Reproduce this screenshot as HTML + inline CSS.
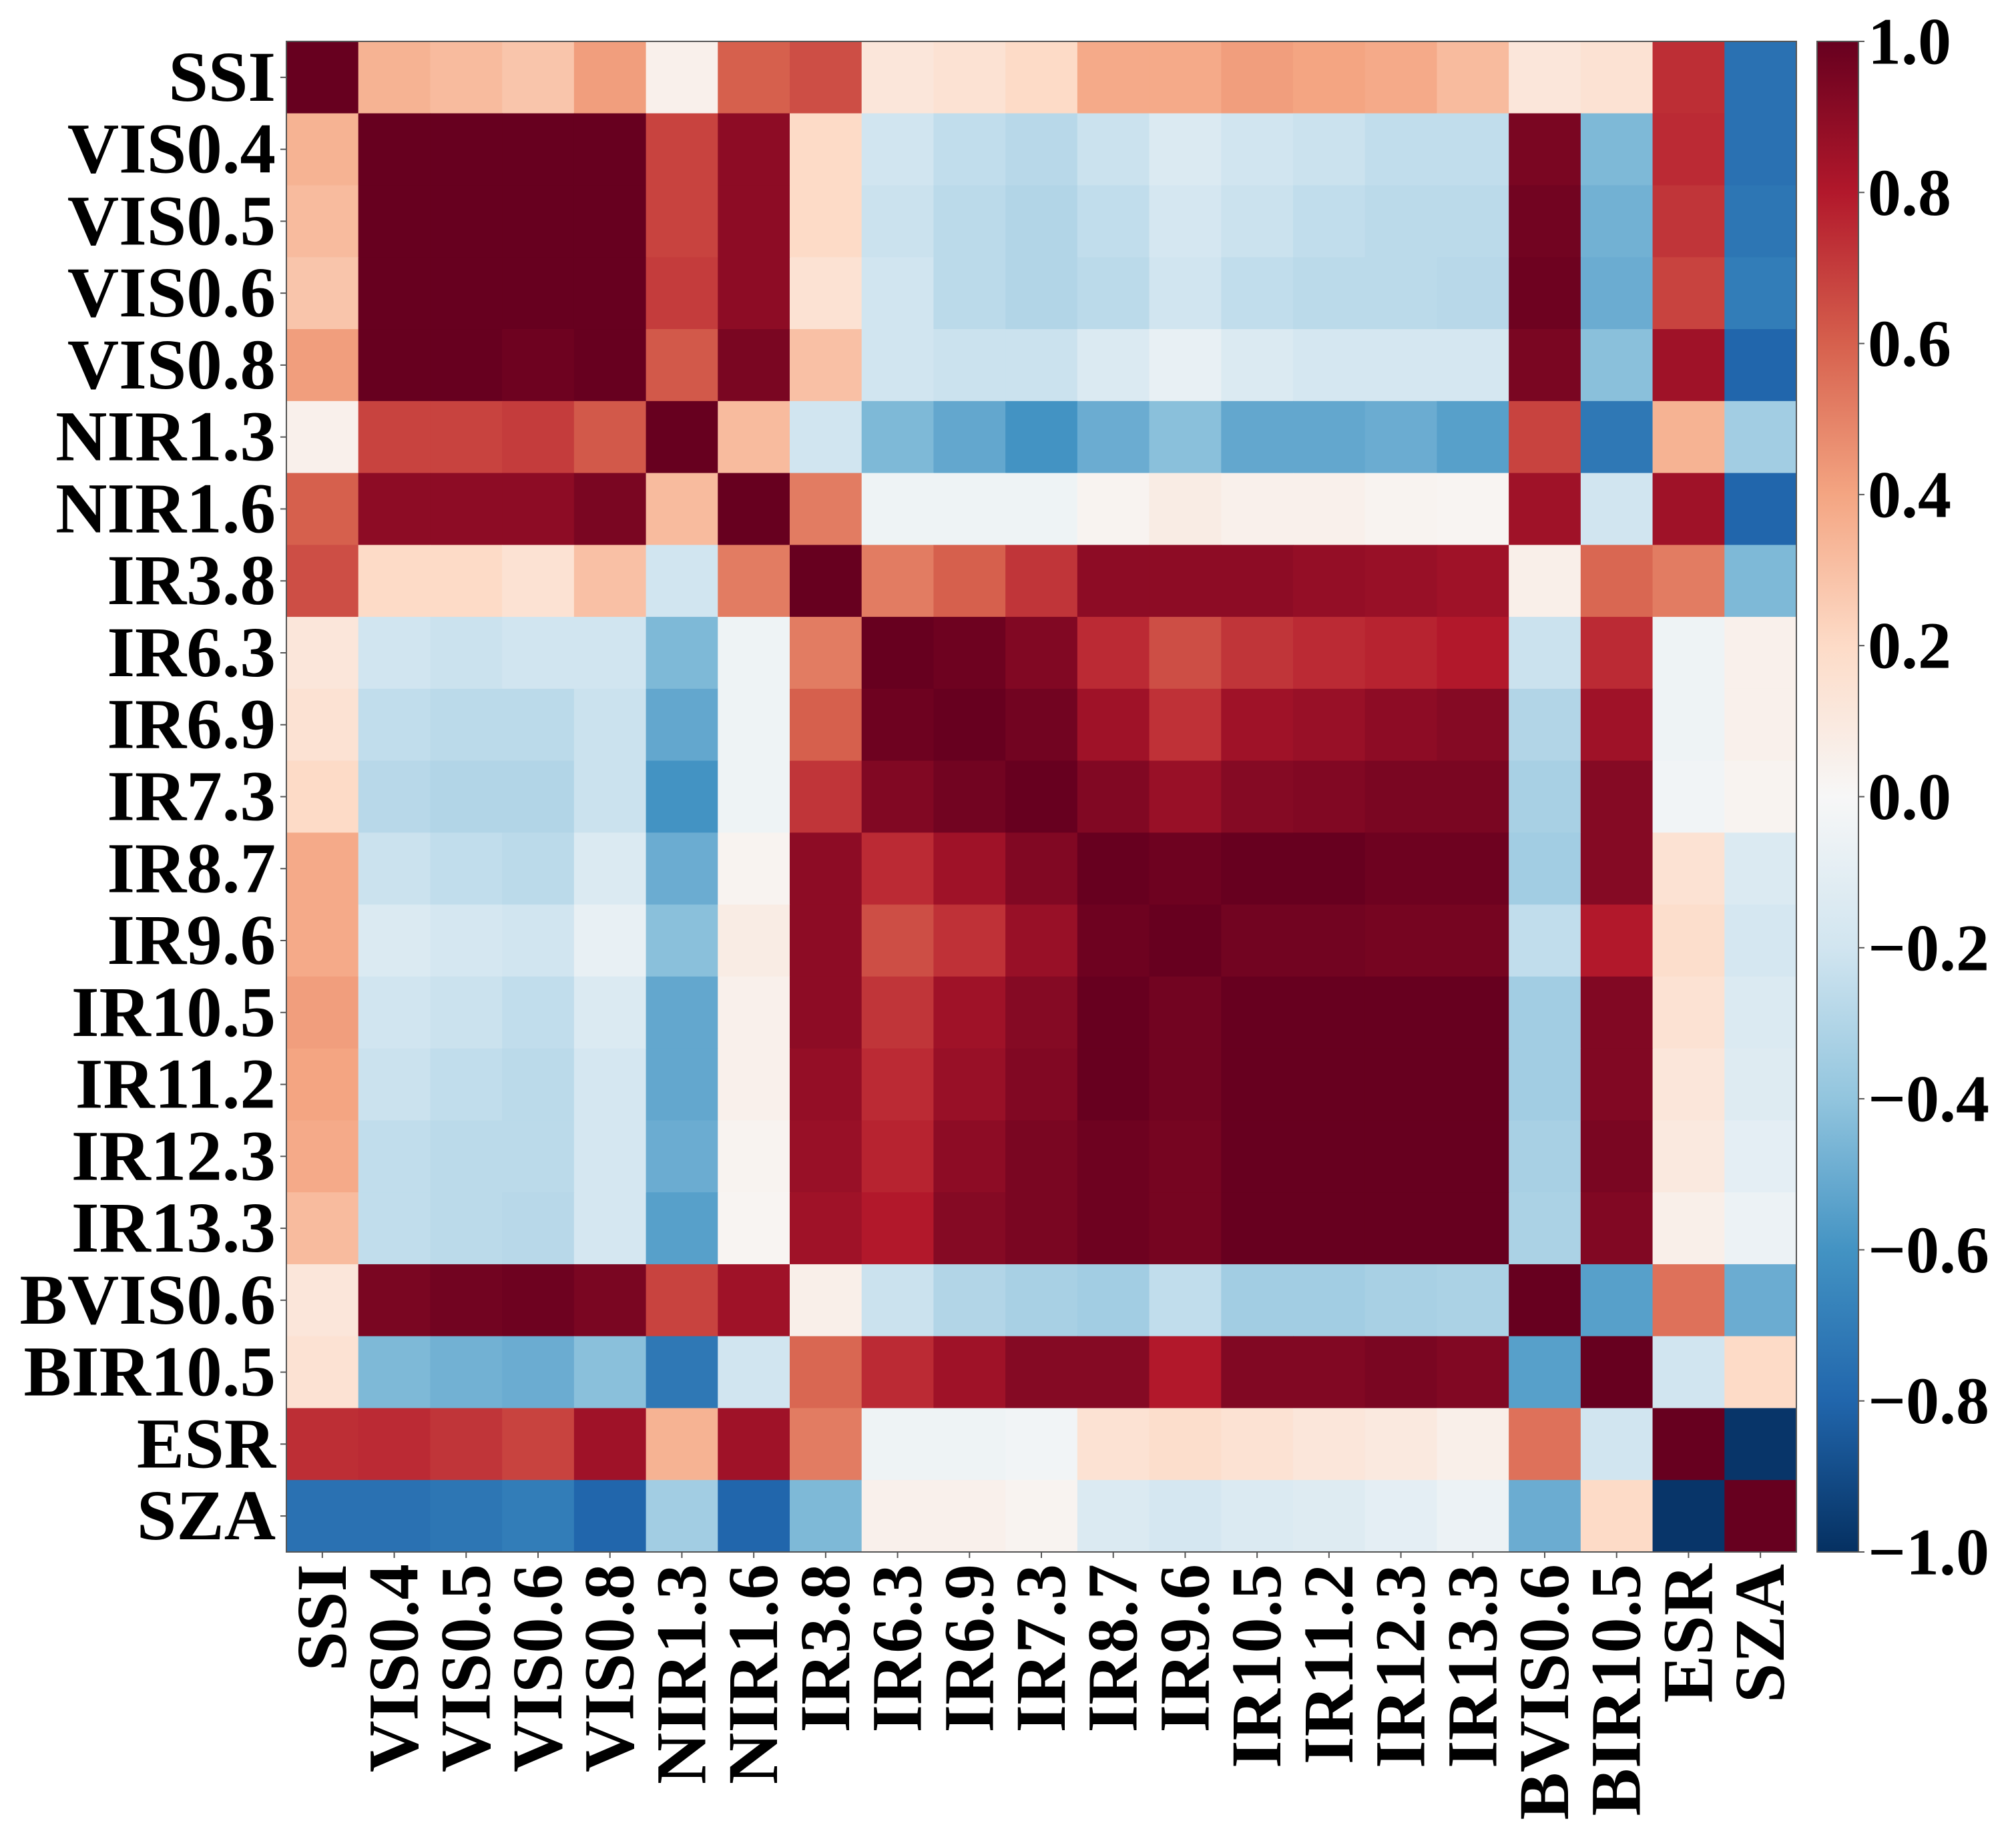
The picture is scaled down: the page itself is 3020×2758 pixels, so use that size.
<!DOCTYPE html>
<html><head><meta charset="utf-8"><style>
html,body{margin:0;padding:0;background:#fff;}
svg{display:block;}
text{font-family:"Liberation Serif",serif;font-weight:bold;fill:#000;}
</style></head><body>
<svg id="chart" width="3020" height="2758" viewBox="0 0 3020 2758" xmlns="http://www.w3.org/2000/svg">
<defs>
<linearGradient id="cbgrad" x1="0" y1="1" x2="0" y2="0">
<stop offset="0" stop-color="#053061"/><stop offset="0.1" stop-color="#2166ac"/><stop offset="0.2" stop-color="#4393c3"/><stop offset="0.3" stop-color="#92c5de"/><stop offset="0.4" stop-color="#d1e5f0"/><stop offset="0.5" stop-color="#f7f7f7"/><stop offset="0.6" stop-color="#fddbc7"/><stop offset="0.7" stop-color="#f4a582"/><stop offset="0.8" stop-color="#d6604d"/><stop offset="0.9" stop-color="#b2182b"/><stop offset="1" stop-color="#67001f"/>
</linearGradient>
</defs>
<g id="cells"></g>
<g id="ylabels"></g>
<g id="xlabels"></g>
<g id="cbar"></g>
</svg>
<script>
const labels = ["SSI","VIS0.4","VIS0.5","VIS0.6","VIS0.8","NIR1.3","NIR1.6","IR3.8","IR6.3","IR6.9","IR7.3","IR8.7","IR9.6","IR10.5","IR11.2","IR12.3","IR13.3","BVIS0.6","BIR10.5","ESR","SZA"];
const rowSSI   = [1,.35,.32,.28,.42,.05,.6,.65,.12,.15,.2,.38,.38,.42,.4,.38,.32,.12,.15,.74,-.75];
const rowVIS04 = [.35,1,1,1,1,.68,.9,.2,-.2,-.25,-.28,-.22,-.15,-.2,-.22,-.25,-.25,.95,-.45,.75,-.75];
const rowVIS05 = [.32,1,1,1,1,.68,.9,.2,-.22,-.27,-.3,-.25,-.18,-.22,-.25,-.27,-.27,.97,-.48,.72,-.73];
const rowVIS06 = [.28,1,1,1,1,.7,.9,.15,-.2,-.27,-.3,-.27,-.2,-.25,-.27,-.27,-.28,.98,-.5,.68,-.7];
const rowVIS08 = [.42,1,1,.98,1,.62,.95,.3,-.2,-.22,-.22,-.15,-.08,-.15,-.18,-.18,-.18,.95,-.42,.85,-.8];
const rowNIR13 = [.05,.68,.68,.7,.62,1,.32,-.2,-.45,-.52,-.6,-.5,-.42,-.52,-.52,-.5,-.55,.68,-.72,.35,-.35];
const rowNIR16 = [.6,.9,.9,.9,.95,.32,1,.52,-.05,-.05,-.05,.03,.08,.05,.05,.03,.02,.85,-.2,.85,-.8];
const rowIR38  = [.65,.2,.2,.15,.3,-.2,.52,1,.52,.6,.72,.9,.9,.9,.88,.87,.85,.06,.58,.52,-.45];
const rowIR63  = [.12,-.2,-.22,-.2,-.2,-.45,-.05,.52,1,.98,.93,.75,.65,.72,.75,.77,.8,-.22,.75,-.05,.05];
const rowIR69  = [.15,-.25,-.27,-.27,-.22,-.52,-.05,.6,.98,1,.97,.85,.73,.85,.87,.9,.92,-.3,.85,-.05,.05];
const rowIR73  = [.2,-.28,-.3,-.3,-.22,-.6,-.05,.72,.93,.97,1,.93,.87,.92,.93,.95,.95,-.33,.92,-.03,.03];
const rowIR87  = [.38,-.22,-.25,-.27,-.15,-.5,.03,.9,.75,.85,.93,1,.98,1,1,.98,.98,-.35,.92,.15,-.15];
const rowIR96  = [.38,-.15,-.18,-.2,-.08,-.42,.08,.9,.65,.73,.87,.98,1,.97,.97,.96,.96,-.25,.8,.18,-.18];
const rowIR105 = [.42,-.2,-.22,-.25,-.15,-.52,.05,.9,.72,.85,.92,1,.97,1,1,1,1,-.35,.93,.15,-.15];
const rowIR112 = [.4,-.22,-.25,-.27,-.18,-.52,.05,.88,.75,.87,.93,1,.97,1,1,1,1,-.35,.93,.12,-.13];
const rowIR123 = [.38,-.25,-.27,-.27,-.18,-.5,.03,.87,.77,.9,.95,.98,.96,1,1,1,1,-.33,.95,.1,-.1];
const rowIR133 = [.32,-.25,-.27,-.28,-.18,-.55,.02,.85,.8,.92,.95,.98,.96,1,1,1,1,-.32,.93,.06,-.06];
const rowBVIS06= [.12,.95,.97,.98,.95,.68,.85,.06,-.22,-.3,-.33,-.35,-.25,-.35,-.35,-.33,-.32,1,-.55,.55,-.5];
const rowBIR105= [.15,-.45,-.48,-.5,-.42,-.72,-.2,.58,.75,.85,.92,.92,.8,.93,.93,.95,.93,-.55,1,-.2,.2];
const rowESR   = [.74,.75,.72,.68,.85,.35,.85,.52,-.05,-.05,-.03,.15,.18,.15,.12,.1,.06,.55,-.2,1,-.98];
const rowSZA   = [-.75,-.75,-.73,-.7,-.8,-.35,-.8,-.45,.05,.05,.03,-.15,-.18,-.15,-.13,-.1,-.06,-.5,.2,-.98,1];
const matrix = [rowSSI,rowVIS04,rowVIS05,rowVIS06,rowVIS08,rowNIR13,rowNIR16,rowIR38,rowIR63,rowIR69,rowIR73,rowIR87,rowIR96,rowIR105,rowIR112,rowIR123,rowIR133,rowBVIS06,rowBIR105,rowESR,rowSZA];
const cbTicks = [1.0,0.8,0.6,0.4,0.2,0.0,-0.2,-0.4,-0.6,-0.8,-1.0];
const cbTickLabels = ["1.0","0.8","0.6","0.4","0.2","0.0","\u22120.2","\u22120.4","\u22120.6","\u22120.8","\u22121.0"];

const NS="http://www.w3.org/2000/svg";
const L=429, T=62, W=2262, H=2263;
const n=labels.length, cw=W/n, ch=H/n;
const xPos=i=>L+i*cw, yPos=i=>T+i*ch;
const stops=["#053061","#2166ac","#4393c3","#92c5de","#d1e5f0","#f7f7f7","#fddbc7","#f4a582","#d6604d","#b2182b","#67001f"].map(h=>[parseInt(h.slice(1,3),16),parseInt(h.slice(3,5),16),parseInt(h.slice(5,7),16)]);
function color(v){let t=(Math.max(-1,Math.min(1,v))+1)/2*10;let i=Math.min(9,Math.floor(t));let f=t-i;const a=stops[i],b=stops[i+1];return "rgb("+a.map((c,k)=>Math.round(c+(b[k]-c)*f)).join(",")+")";}
function mk(tag,attrs,parent){const e=document.createElementNS(NS,tag);for(const k in attrs)e.setAttribute(k,attrs[k]);parent.appendChild(e);return e;}
const cells=document.getElementById('cells');
matrix.forEach((row,r)=>row.forEach((v,c)=>{
  const e=mk('rect',{x:xPos(c),y:yPos(r),width:cw+0.6,height:ch+0.6,fill:color(v)},cells);
  
  
}));
const frame=mk('rect',{x:L,y:T,width:W,height:H,fill:'none',stroke:'#555',"stroke-width":2},cells);


const yl=document.getElementById('ylabels'), xl=document.getElementById('xlabels');
labels.forEach((lab,i)=>{
  const cy=yPos(i)+ch/2, cx=xPos(i)+cw/2;
  mk('line',{x1:L-9,x2:L,y1:cy,y2:cy,stroke:'#555',"stroke-width":2},yl);
  const t=mk('text',{x:L-16,y:cy,"text-anchor":"end","dominant-baseline":"central","font-size":107},yl);
  t.textContent=lab;
  
  
  mk('line',{x1:cx,x2:cx,y1:T+H,y2:T+H+9,stroke:'#555',"stroke-width":2},xl);
  const u=mk('text',{x:0,y:0,"text-anchor":"end","dominant-baseline":"central","font-size":107,transform:"translate("+cx+","+(T+H+18)+") rotate(-90)"},xl);
  u.textContent=lab;
  
  
});
const cb=document.getElementById('cbar');
const CBX=2722, CBW=62;
const cbY=v=>T+(1-v)/2*H;
const bar=mk('rect',{x:CBX,y:T,width:CBW,height:H,fill:'url(#cbgrad)',stroke:'#555',"stroke-width":2},cb);


cbTicks.forEach((v,i)=>{
  const y=cbY(v);
  mk('line',{x1:CBX+CBW,x2:CBX+CBW+9,y1:y,y2:y,stroke:'#555',"stroke-width":2},cb);
  const t=mk('text',{x:CBX+CBW+14,y:y,"dominant-baseline":"central","font-size":100},cb);
  t.textContent=cbTickLabels[i];
  
  
});
</script>
</body></html>
